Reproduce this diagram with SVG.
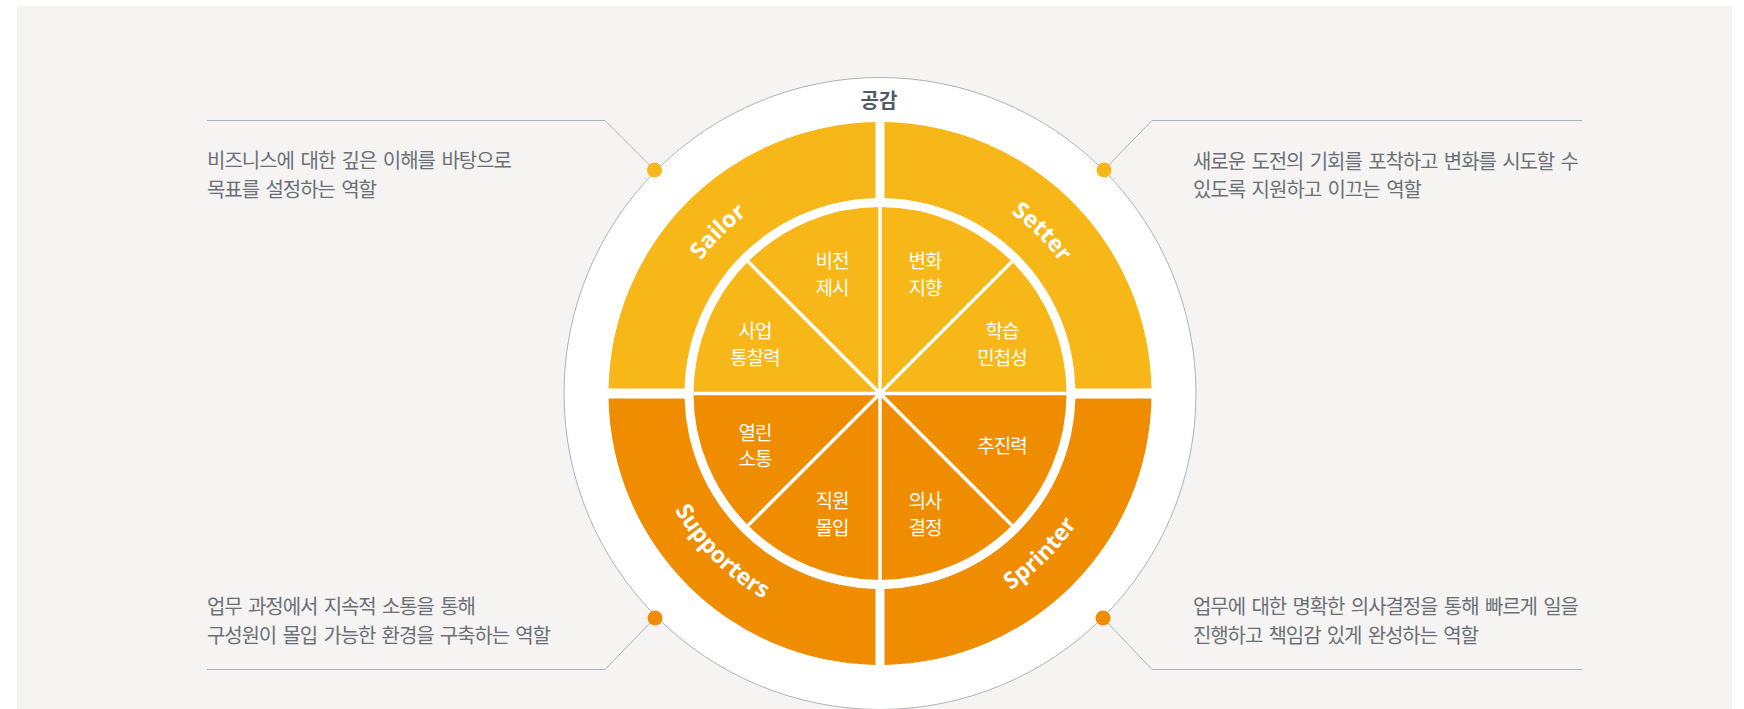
<svg xmlns="http://www.w3.org/2000/svg" width="1744" height="709" viewBox="0 0 1744 709">
<defs>
<style>
.desc { font-family: "Noto Sans CJK KR", "Noto Sans", sans-serif; font-size: 20px; fill: #6a7076; word-spacing: 3px; }
.inner { font-family: "Noto Sans CJK KR", sans-serif; font-size: 19px; fill: #ffffff; text-anchor: middle; letter-spacing: -1px; }
.role { font-family: "Open Sans", "Liberation Sans", sans-serif; font-size: 23px; font-weight: 700; fill: #ffffff; }
.title { font-family: "Noto Sans CJK KR", sans-serif; font-size: 20px; font-weight: 700; fill: #545a61; text-anchor: middle; }
.call { fill: none; stroke: #a9b3bf; stroke-width: 1; }
.yel { fill: #f7b718; }
.org { fill: #f08c00; }
.sep { stroke: #ffffff; stroke-width: 3.5; }
</style>
<path id="arcSailor" d="M657,393.5 A223,223 0 0 1 880,170.5"/>
<path id="arcSetter" d="M880,170.5 A223,223 0 0 1 1103,393.5"/>
<path id="arcSupporters" d="M644,393.5 A236,236 0 0 0 880,629.5"/>
<path id="arcSprinter" d="M880,629.5 A236,236 0 0 0 1116,393.5"/>
</defs>

<rect x="0" y="0" width="1744" height="709" fill="#ffffff"/>
<rect x="17" y="6" width="1715" height="703" fill="#f5f4f2"/>

<g id="connectors">
<polyline class="call" points="207,120.5 605,120.5 654.5,170"/>
<polyline class="call" points="1582,120.5 1152,120.5 1104,170"/>
<polyline class="call" points="207,669.5 605,669.5 655,618"/>
<polyline class="call" points="1582,669.5 1152,669.5 1103,618"/>
</g>

<g id="outer-ring">
<circle cx="880" cy="393.5" r="316" fill="#ffffff" stroke="#a9b3bf" stroke-width="1"/>
</g>

<g id="dots">
<circle cx="654.5" cy="170" r="7.5" class="yel"/>
<circle cx="1104" cy="170" r="7.5" class="yel"/>
<circle cx="655" cy="618" r="7.5" class="org"/>
<circle cx="1103" cy="618" r="7.5" class="org"/>
</g>

<g id="empathy">
<text class="title" x="879" y="108">공감</text>
</g>

<g id="sailor">
<path class="yel" d="M875.5,122.04 A271.5,271.5 0 0 0 608.55,388.5 L684.56,388.5 A195.5,195.5 0 0 1 875.5,198.05 Z"/>
<text class="role"><textPath href="#arcSailor" startOffset="50%" text-anchor="middle">Sailor</textPath></text>
</g>
<g id="setter">
<path class="yel" d="M884.5,122.04 A271.5,271.5 0 0 1 1151.45,388.5 L1075.44,388.5 A195.5,195.5 0 0 0 884.5,198.05 Z"/>
<text class="role"><textPath href="#arcSetter" startOffset="50%" text-anchor="middle">Setter</textPath></text>
</g>
<g id="supporters">
<path class="org" d="M608.55,398.5 A271.5,271.5 0 0 0 875.5,664.96 L875.5,588.95 A195.5,195.5 0 0 1 684.56,398.5 Z"/>
<text class="role"><textPath href="#arcSupporters" startOffset="50%" text-anchor="middle">Supporters</textPath></text>
</g>
<g id="sprinter">
<path class="org" d="M1151.45,398.5 A271.5,271.5 0 0 1 884.5,664.96 L884.5,588.95 A195.5,195.5 0 0 0 1075.44,398.5 Z"/>
<text class="role"><textPath href="#arcSprinter" startOffset="50%" text-anchor="middle">Sprinter</textPath></text>
</g>

<g id="vision">
<path class="yel" d="M880,393.5 L748.12,261.62 A186.5,186.5 0 0 1 880,207 Z"/>
<text class="inner" x="832" y="268">비전</text>
<text class="inner" x="832" y="295">제시</text>
</g>
<g id="change">
<path class="yel" d="M880,393.5 L880,207 A186.5,186.5 0 0 1 1011.88,261.62 Z"/>
<text class="inner" x="925" y="268">변화</text>
<text class="inner" x="925" y="295">지향</text>
</g>
<g id="agility">
<path class="yel" d="M880,393.5 L1011.88,261.62 A186.5,186.5 0 0 1 1066.5,393.5 Z"/>
<text class="inner" x="1002" y="338">학습</text>
<text class="inner" x="1002" y="365">민첩성</text>
</g>
<g id="drive">
<path class="org" d="M880,393.5 L1066.5,393.5 A186.5,186.5 0 0 1 1011.88,525.38 Z"/>
<text class="inner" x="1002" y="453">추진력</text>
</g>
<g id="decision">
<path class="org" d="M880,393.5 L1011.88,525.38 A186.5,186.5 0 0 1 880,580 Z"/>
<text class="inner" x="925" y="508">의사</text>
<text class="inner" x="925" y="535">결정</text>
</g>
<g id="engagement">
<path class="org" d="M880,393.5 L880,580 A186.5,186.5 0 0 1 748.12,525.38 Z"/>
<text class="inner" x="832" y="508">직원</text>
<text class="inner" x="832" y="535">몰입</text>
</g>
<g id="communication">
<path class="org" d="M880,393.5 L748.12,525.38 A186.5,186.5 0 0 1 693.5,393.5 Z"/>
<text class="inner" x="755" y="440">열린</text>
<text class="inner" x="755" y="466">소통</text>
</g>
<g id="insight">
<path class="yel" d="M880,393.5 L693.5,393.5 A186.5,186.5 0 0 1 748.12,261.62 Z"/>
<text class="inner" x="755" y="338">사업</text>
<text class="inner" x="755" y="365">통찰력</text>
</g>

<g id="dividers">
<line class="sep" x1="880" y1="207" x2="880" y2="580"/>
<line class="sep" x1="693.5" y1="393.5" x2="1066.5" y2="393.5"/>
<line class="sep" x1="748.12" y1="261.62" x2="1011.88" y2="525.38"/>
<line class="sep" x1="1011.88" y1="261.62" x2="748.12" y2="525.38"/>
</g>

<g id="desc-sailor">
<text class="desc" x="207" y="168" textLength="305">비즈니스에 대한 깊은 이해를 바탕으로</text>
<text class="desc" x="207" y="196.5" textLength="170">목표를 설정하는 역할</text>
</g>
<g id="desc-setter">
<text class="desc" x="1193" y="168.5" textLength="386">새로운 도전의 기회를 포착하고 변화를 시도할 수</text>
<text class="desc" x="1193" y="197" textLength="229">있도록 지원하고 이끄는 역할</text>
</g>
<g id="desc-supporters">
<text class="desc" x="207" y="614" textLength="269">업무 과정에서 지속적 소통을 통해</text>
<text class="desc" x="207" y="643" textLength="344">구성원이 몰입 가능한 환경을 구축하는 역할</text>
</g>
<g id="desc-sprinter">
<text class="desc" x="1193" y="614" textLength="386">업무에 대한 명확한 의사결정을 통해 빠르게 일을</text>
<text class="desc" x="1193" y="643" textLength="286">진행하고 책임감 있게 완성하는 역할</text>
</g>
</svg>
